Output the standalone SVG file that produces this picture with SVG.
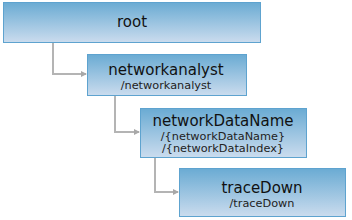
<svg xmlns="http://www.w3.org/2000/svg" width="352" height="220" viewBox="0 0 352 220">
<style>
.box{fill:url(#g);stroke:#5ea3cf;stroke-width:1}
.t{font-family:"DejaVu Sans",Verdana,sans-serif;font-size:15px;fill:#111;text-anchor:middle}
.s{font-family:"DejaVu Sans",Verdana,sans-serif;font-size:11.3px;fill:#222;text-anchor:middle}
.c{fill:none;stroke:#b4b4b4;stroke-width:2}
</style>
<defs>
<linearGradient id="g" x1="0" y1="0" x2="0" y2="1">
<stop offset="0" stop-color="#6aabd3"/>
<stop offset="1" stop-color="#cbdcee"/>
</linearGradient>
<marker id="a" markerWidth="6" markerHeight="6" refX="5" refY="3" orient="auto" markerUnits="userSpaceOnUse">
<path d="M0,0 L6,3 L0,6 Z" fill="#a8a8a8"/>
</marker>
</defs>
<g id="connectors">
<path class="c" d="M53,42 V74 H86" marker-end="url(#a)"/>
<path class="c" d="M115,95 V132 H139" marker-end="url(#a)"/>
<path class="c" d="M155,157 V192 H178" marker-end="url(#a)"/>
</g>
<g id="root">
<rect class="box" x="3.5" y="2.5" width="257" height="40"/>
<text class="t" x="132" y="27">root</text>
</g>
<g id="networkanalyst">
<rect class="box" x="87.5" y="54.5" width="159" height="41"/>
<text class="t" x="166" y="75">networkanalyst</text>
<text class="s" x="166" y="89">/networkanalyst</text>
</g>
<g id="networkDataName">
<rect class="box" x="140.5" y="108.5" width="166" height="49"/>
<text class="t" x="223" y="126">networkDataName</text>
<text class="s" x="223" y="139.5">/{networkDataName}</text>
<text class="s" x="223" y="152">/{networkDataIndex}</text>
</g>
<g id="traceDown">
<rect class="box" x="179.5" y="168.5" width="166" height="48"/>
<text class="t" x="262" y="193">traceDown</text>
<text class="s" x="262" y="207">/traceDown</text>
</g>
</svg>
